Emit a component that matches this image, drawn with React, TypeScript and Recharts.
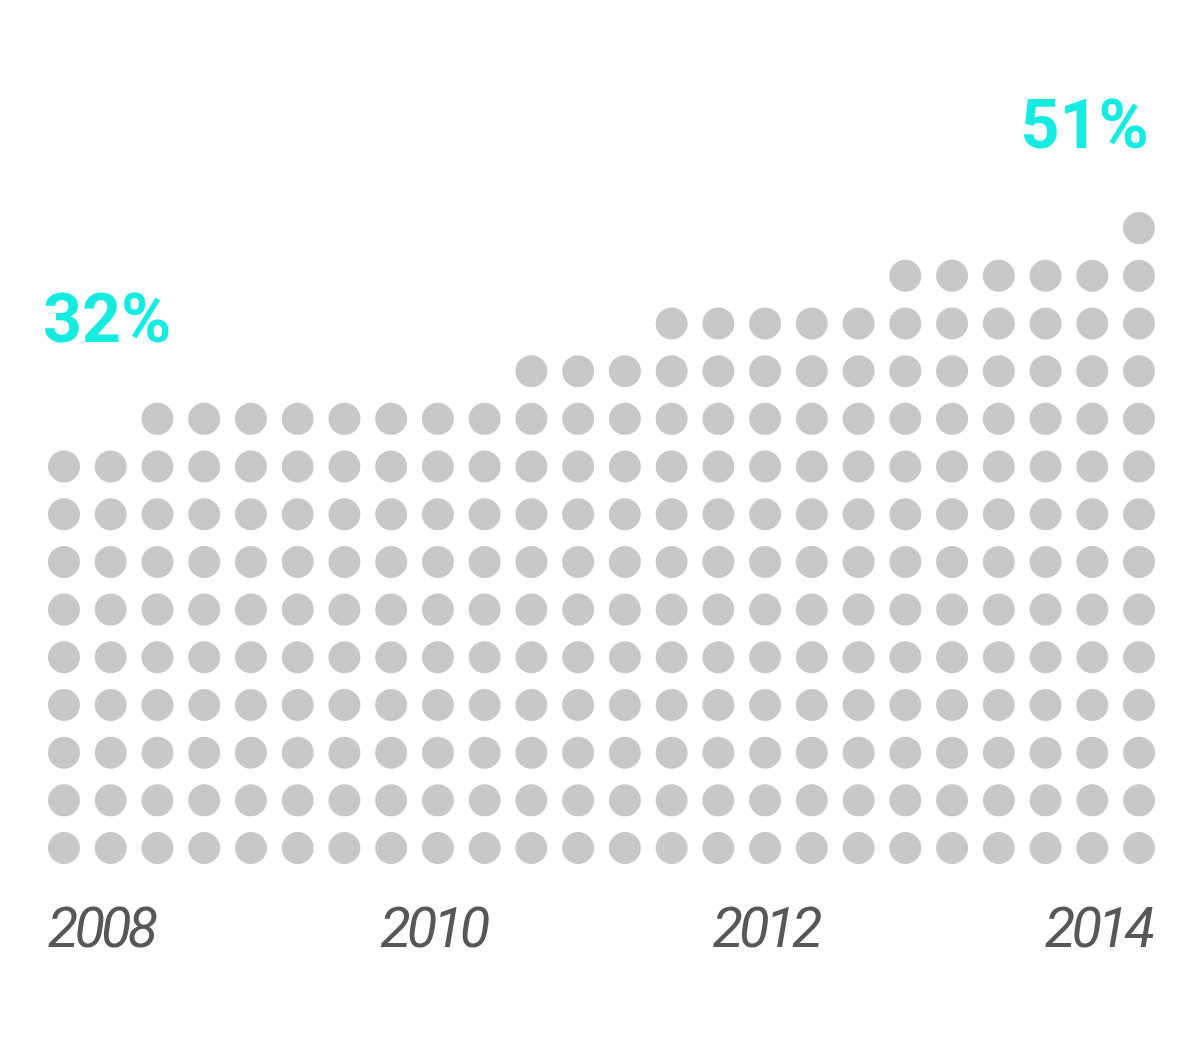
import { ScatterChart, Scatter, XAxis, YAxis } from 'recharts';

// dots stacked per column, left to right
const columnCounts = [9, 9, 10, 10, 10, 10, 10, 10, 10, 10, 11, 11, 11, 12, 12, 12, 12, 12, 13, 13, 13, 13, 13, 14];
const yearLabels = ['2008', '2010', '2012', '2014'];
const shareLabels = ['32%', '51%'];

// layout (column / row units)
const YEAR_FIRST_COL = 0.79;
const YEAR_LAST_COL = 22.12;
const LABEL_POS = [
  { col: -0.45, row: 10.62, anchor: 'start' },
  { col: 23.21, row: 14.68, anchor: 'end' },
];

const DOT_COLOR = '#c8c8c8';
const ACCENT = '#14ebe1';

const dots = columnCounts.flatMap((count, col) =>
  Array.from({ length: count }, (_, row) => ({ col, row }))
);

const yearTicks = yearLabels.map(
  (_, i) => YEAR_FIRST_COL + (i * (YEAR_LAST_COL - YEAR_FIRST_COL)) / (yearLabels.length - 1)
);

const labels = shareLabels.map((text, i) => ({ ...LABEL_POS[i], text }));

const Dot = (props: any) => <circle cx={props.cx} cy={props.cy} r={16} fill={DOT_COLOR} />;

const ShareLabel = (props: any) => (
  <text
    x={props.cx}
    y={props.cy}
    textAnchor={props.payload.anchor}
    fill={ACCENT}
    fontFamily="Roboto"
    fontWeight={700}
    fontSize={68}
  >
    {props.payload.text}
  </text>
);

const YearTick = (props: any) => {
  const idx = yearTicks.findIndex(t => Math.abs(t - props.payload.value) < 1e-6);
  return (
    <text
      x={props.x}
      y={props.y}
      dy={75}
      textAnchor="middle"
      fill="#575757"
      fontFamily="Roboto"
      fontStyle="italic"
      fontSize={56}
      letterSpacing={-4}
    >
      {yearLabels[idx]}
    </text>
  );
};

export default function App() {
  return (
    <div style={{ position: 'absolute', left: 0, top: 0, background: '#fff' }}>
      <ScatterChart
        width={1200}
        height={1050}
        margin={{ top: 85, right: 37.6, bottom: 78.15, left: 40.6 }}
      >
        <XAxis
          type="number"
          dataKey="col"
          domain={[-0.5, 23.5]}
          ticks={yearTicks}
          tick={YearTick}
          axisLine={false}
          tickLine={false}
          tickSize={0}
          tickMargin={0}
          height={100}
          interval={0}
          allowDataOverflow
        />
        <YAxis type="number" dataKey="row" domain={[-0.5, 16]} hide allowDataOverflow />
        <Scatter data={dots} shape={Dot} isAnimationActive={false} />
        <Scatter data={labels} shape={ShareLabel} isAnimationActive={false} />
      </ScatterChart>
    </div>
  );
}
